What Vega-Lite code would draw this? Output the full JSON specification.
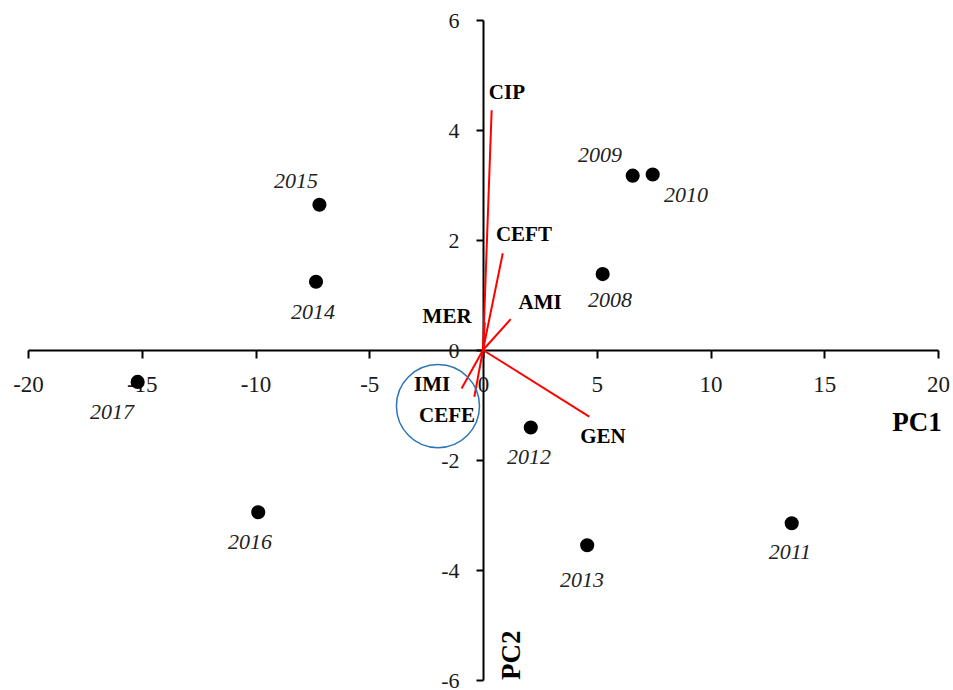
{
  "$schema": "https://vega.github.io/schema/vega-lite/v6.json",
  "width": 910,
  "height": 660,
  "autosize": "none",
  "padding": {"left": 28, "top": 20, "right": 15, "bottom": 10},
  "background": "white",
  "config": {"view": {"stroke": null}, "font": "Liberation Serif"},
  "datasets": {
    "years": [
      {"year": "2008", "pc1": 5.26, "pc2": 1.38, "lx": 5.58, "ly": 0.91},
      {"year": "2009", "pc1": 6.58, "pc2": 3.17, "lx": 5.14, "ly": 3.55},
      {"year": "2010", "pc1": 7.46, "pc2": 3.19, "lx": 8.92, "ly": 2.82},
      {"year": "2011", "pc1": 13.57, "pc2": -3.15, "lx": 13.49, "ly": -3.67},
      {"year": "2012", "pc1": 2.10, "pc2": -1.41, "lx": 2.02, "ly": -1.95},
      {"year": "2013", "pc1": 4.58, "pc2": -3.55, "lx": 4.35, "ly": -4.18},
      {"year": "2014", "pc1": -7.34, "pc2": 1.24, "lx": -7.47, "ly": 0.69},
      {"year": "2015", "pc1": -7.19, "pc2": 2.64, "lx": -8.22, "ly": 3.07},
      {"year": "2016", "pc1": -9.88, "pc2": -2.95, "lx": -10.24, "ly": -3.49},
      {"year": "2017", "pc1": -15.18, "pc2": -0.58, "lx": -16.31, "ly": -1.13}
    ],
    "vectors": [
      {"var": "CIP", "pc1": 0.38, "pc2": 4.36, "lx": 1.05, "ly": 4.67},
      {"var": "CEFT", "pc1": 0.87, "pc2": 1.76, "lx": 1.80, "ly": 2.09},
      {"var": "AMI", "pc1": 1.22, "pc2": 0.56, "lx": 2.51, "ly": 0.85},
      {"var": "MER", "pc1": 0.08, "pc2": 0.5, "lx": -1.58, "ly": 0.60},
      {"var": "IMI", "pc1": -0.94, "pc2": -0.70, "lx": -2.24, "ly": -0.64},
      {"var": "CEFE", "pc1": -0.38, "pc2": -0.85, "lx": -1.58, "ly": -1.20},
      {"var": "GEN", "pc1": 4.67, "pc2": -1.21, "lx": 5.27, "ly": -1.58}
    ],
    "highlight": [{"pc1": -1.98, "pc2": -1.02}],
    "axisTitles": [
      {"name": "PC1", "lx": 19.08, "ly": -1.33, "angle": 0},
      {"name": "PC2", "lx": 1.27, "ly": -5.55, "angle": 270}
    ]
  },
  "layer": [
    {
      "data": {"name": "vectors"},
      "mark": {"type": "rule", "color": "#ff0000", "strokeWidth": 2},
      "encoding": {
        "x": {
          "field": "pc1", "type": "quantitative",
          "scale": {"domain": [-20, 20], "nice": false, "zero": false},
          "axis": {
            "orient": "bottom", "offset": -330, "title": null, "grid": false,
            "values": [-20, -15, -10, -5, 0, 5, 10, 15, 20],
            "labelExpr": "datum.value < 0 ? '-' + abs(datum.value) : '' + datum.value",
            "domainColor": "#000", "domainWidth": 2, "tickColor": "#000", "tickWidth": 2, "tickSize": 8,
            "labelFont": "Liberation Serif", "labelFontSize": 23, "labelColor": "#1a1a1a",
            "labelPadding": 15, "labelFlush": false, "labelOverlap": false, "labelBound": false
          }
        },
        "y": {
          "field": "pc2", "type": "quantitative",
          "scale": {"domain": [-6, 6], "nice": false, "zero": false},
          "axis": {
            "orient": "left", "offset": -455, "title": null, "grid": false,
            "values": [-6, -4, -2, 0, 2, 4, 6],
            "labelExpr": "datum.value < 0 ? '-' + abs(datum.value) : '' + datum.value",
            "domainColor": "#000", "domainWidth": 2, "tickColor": "#000", "tickWidth": 2, "tickSize": 7,
            "labelFont": "Liberation Serif", "labelFontSize": 22, "labelColor": "#1a1a1a",
            "labelPadding": 17, "labelFlush": false, "labelOverlap": false, "labelBound": false
          }
        },
        "x2": {"datum": 0},
        "y2": {"datum": 0}
      }
    },
    {
      "data": {"name": "highlight"},
      "mark": {"type": "point", "shape": "circle", "filled": false, "size": 6900, "stroke": "#2e75b6", "strokeWidth": 1.5, "opacity": 1},
      "encoding": {
        "x": {"field": "pc1", "type": "quantitative"},
        "y": {"field": "pc2", "type": "quantitative"}
      }
    },
    {
      "data": {"name": "years"},
      "mark": {"type": "point", "shape": "circle", "filled": true, "size": 200, "color": "#000", "opacity": 1},
      "encoding": {
        "x": {"field": "pc1", "type": "quantitative"},
        "y": {"field": "pc2", "type": "quantitative"}
      }
    },
    {
      "data": {"name": "years"},
      "mark": {"type": "text", "font": "Liberation Serif", "fontStyle": "italic", "fontSize": 22, "color": "#222", "align": "center", "baseline": "middle"},
      "encoding": {
        "x": {"field": "lx", "type": "quantitative"},
        "y": {"field": "ly", "type": "quantitative"},
        "text": {"field": "year"}
      }
    },
    {
      "data": {"name": "vectors"},
      "mark": {"type": "text", "font": "Liberation Serif", "fontWeight": "bold", "fontSize": 21, "color": "#000", "align": "center", "baseline": "middle"},
      "encoding": {
        "x": {"field": "lx", "type": "quantitative"},
        "y": {"field": "ly", "type": "quantitative"},
        "text": {"field": "var"}
      }
    },
    {
      "data": {"name": "axisTitles"},
      "mark": {"type": "text", "font": "Liberation Serif", "fontWeight": "bold", "fontSize": 27, "color": "#000", "align": "center", "baseline": "middle"},
      "encoding": {
        "x": {"field": "lx", "type": "quantitative"},
        "y": {"field": "ly", "type": "quantitative"},
        "text": {"field": "name"},
        "angle": {"field": "angle", "type": "quantitative", "scale": null}
      }
    }
  ]
}
